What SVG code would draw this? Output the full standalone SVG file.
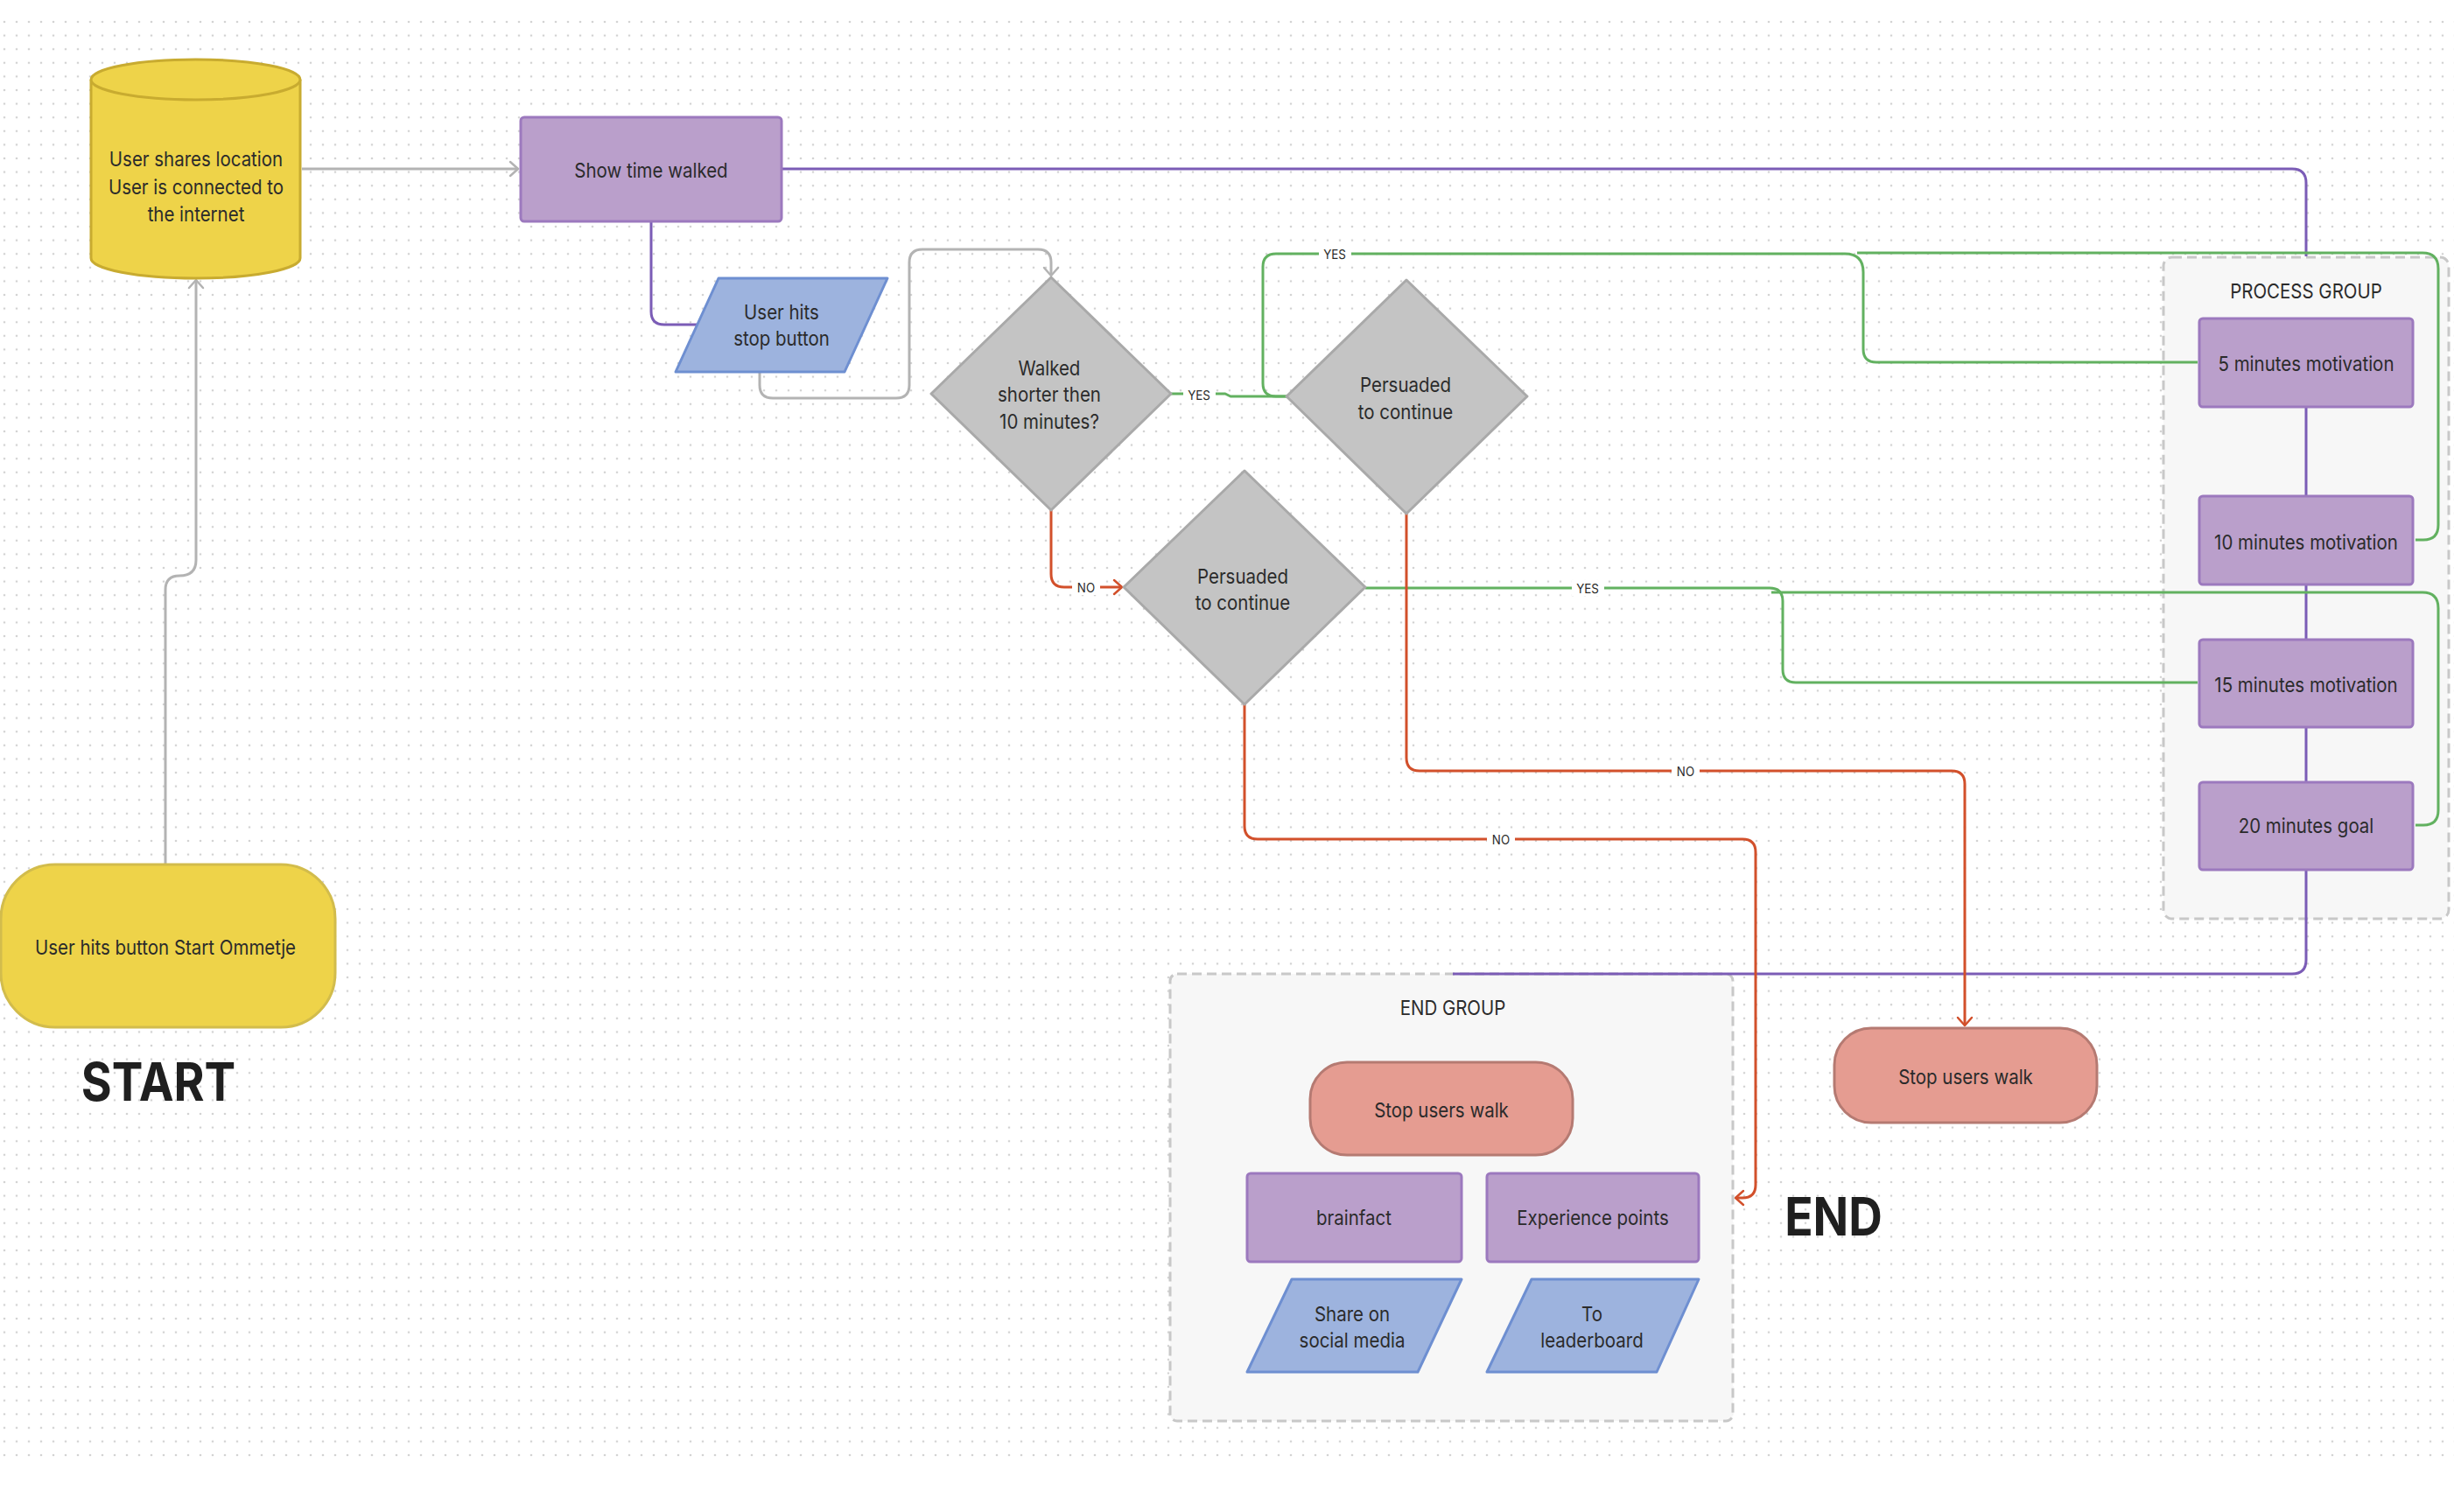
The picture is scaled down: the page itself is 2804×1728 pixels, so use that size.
<svg xmlns="http://www.w3.org/2000/svg" width="2804" height="1728" viewBox="0 0 2804 1728">
<defs>
<pattern id="dots" patternUnits="userSpaceOnUse" x="0" y="17.2" width="14" height="15.6">
<circle cx="5" cy="7.8" r="1.3" fill="#d2d2d2"/>
</pattern>
<marker id="ah-gray" markerUnits="userSpaceOnUse" viewBox="-12 -10 14 20" refX="0" refY="0" markerWidth="14" markerHeight="20" orient="auto">
<path d="M-9,-8 L0,0 L-9,8" fill="none" stroke="#b3b3b3" stroke-width="2.5" stroke-linecap="round" stroke-linejoin="round"/>
</marker>
<marker id="ah-red" markerUnits="userSpaceOnUse" viewBox="-12 -10 14 20" refX="0" refY="0" markerWidth="14" markerHeight="20" orient="auto">
<path d="M-9,-8 L0,0 L-9,8" fill="none" stroke="#d2502b" stroke-width="2.5" stroke-linecap="round" stroke-linejoin="round"/>
</marker>
</defs>
<style>
text{font-family:Inter,"Noto Sans","Liberation Sans",sans-serif;fill:#2b2b2b;text-anchor:middle;transform-box:fill-box;transform-origin:center;transform:scaleX(0.89)}
.n{font-size:23px}
.g{font-size:23px}
.l{font-size:15px}
.big{font-size:60px;font-weight:700;fill:#1f1f1f}
.yellow{fill:#eed349;stroke:#c8ab30;stroke-width:3}
.purple{fill:#ba9fcb;stroke:#9c79be;stroke-width:3}
.blue{fill:#9db3de;stroke:#6e8fd1;stroke-width:3;stroke-linejoin:round}
.gray{fill:#c4c4c4;stroke:#a9a9a9;stroke-width:3;stroke-linejoin:round}
.salmon{fill:#e59c91;stroke:#b57a72;stroke-width:3}
.grp{fill:#f7f7f7;stroke:#c8c8c8;stroke-width:3;stroke-dasharray:11 6}
.e{fill:none;stroke-width:3;stroke-linejoin:round}
.eg{stroke:#b3b3b3}
.ep{stroke:#7b5cb6}
.egr{stroke:#62b160}
.er{stroke:#d2502b}
.lb{fill:#ffffff}
</style>
<rect x="0" y="0" width="2804" height="1728" fill="#ffffff"/>
<rect x="0" y="17" width="2804" height="1649" fill="url(#dots)"/>

<g id="process-group">
<rect class="grp" x="2472" y="294" width="326" height="756" rx="10"/>
<text class="g" x="2635" y="341">PROCESS GROUP</text>
</g>
<g id="end-group">
<rect class="grp" x="1337" y="1113" width="643" height="511" rx="8"/>
<text class="g" x="1660" y="1160">END GROUP</text>
</g>

<g id="connectors">
<path class="e eg" d="M345,193 H592" marker-end="url(#ah-gray)"/>
<path class="e eg" d="M189,988 V674 Q189,658 205,658 Q224,658 224,640 V320" marker-end="url(#ah-gray)"/>
<path class="e eg" d="M868,425 V440 Q868,455 883,455 H1024 Q1039,455 1039,440 V300 Q1039,285 1054,285 H1186 Q1201,285 1201,300 V315" marker-end="url(#ah-gray)"/>
<path class="e ep" d="M893,193 H2619 Q2635,193 2635,209 V293"/>
<path class="e ep" d="M744,253 V356 Q744,371 759,371 H797"/>
<path class="e ep" d="M2635,465 V567 M2635,668 V731 M2635,831 V894"/>
<path class="e ep" d="M2635,994 V1097 Q2635,1113 2619,1113 H1660"/>
<path class="e egr" d="M1338,450 H1400 L1406,453 H1470"/>
<path class="e egr" d="M1470,453 H1458 Q1443,453 1443,438 V305 Q1443,290 1458,290 H2108 Q2129,290 2129,311 V399 Q2129,414 2144,414 H2511"/>
<path class="e egr" d="M2122,289 H2768 Q2786,289 2786,307 V600 Q2786,617 2769,617 H2760"/>
<path class="e egr" d="M1560,672 H2022 Q2037,672 2037,687 V765 Q2037,780 2052,780 H2511"/>
<path class="e egr" d="M2024,677 H2768 Q2786,677 2786,695 V926 Q2786,943 2769,943 H2760"/>
<path class="e er" d="M1201,583 V656 Q1201,671 1216,671 H1282" marker-end="url(#ah-red)"/>
<path class="e er" d="M1607,587 V866 Q1607,881 1622,881 H2230 Q2245,881 2245,896 V1172" marker-end="url(#ah-red)"/>
<path class="e er" d="M1422,805 V944 Q1422,959 1437,959 H1991 Q2006,959 2006,974 V1354 Q2006,1369 1991,1369 H1983" marker-end="url(#ah-red)"/>
<rect class="lb" x="1352" y="442" width="37" height="18"/>
<text class="l" x="1370" y="457">YES</text>
<rect class="lb" x="1507" y="281" width="37" height="18"/>
<text class="l" x="1525" y="296">YES</text>
<rect class="lb" x="1225" y="662" width="32" height="18"/>
<text class="l" x="1241" y="677">NO</text>
<rect class="lb" x="1796" y="663" width="37" height="18"/>
<text class="l" x="1814" y="678">YES</text>
<rect class="lb" x="1910" y="872" width="32" height="18"/>
<text class="l" x="1926" y="887">NO</text>
<rect class="lb" x="1699" y="950" width="32" height="18"/>
<text class="l" x="1715" y="965">NO</text>
</g>

<g id="location">
<path class="yellow" d="M104,91 A119.5,23 0 0,1 343,91 V295 A119.5,23 0 0,1 104,295 Z"/>
<path class="yellow" d="M104,91 A119.5,23 0 0,0 343,91" fill="none"/>
<text class="n" x="224" y="190">User shares location</text>
<text class="n" x="224" y="222">User is connected to</text>
<text class="n" x="224" y="253">the internet</text>
</g>
<g id="start-node">
<rect class="yellow" x="1" y="988" width="382" height="186" rx="62" style="stroke:#d2bc4c"/>
<text class="n" x="189" y="1091">User hits button Start Ommetje</text>
</g>
<g id="start-label"><text class="big" x="181" y="1258">START</text></g>
<g id="show-time">
<rect class="purple" x="595" y="134" width="298" height="119" rx="4"/>
<text class="n" x="744" y="203">Show time walked</text>
</g>
<g id="stop-button">
<path class="blue" d="M821,318 H1014 L965,425 H772 Z"/>
<text class="n" x="893" y="365">User hits</text>
<text class="n" x="893" y="395">stop button</text>
</g>
<g id="walked-decision">
<path class="gray" d="M1201,317 L1338,450 L1201,583 L1064,450 Z"/>
<text class="n" x="1199" y="429">Walked</text>
<text class="n" x="1199" y="459">shorter then</text>
<text class="n" x="1199" y="490">10 minutes?</text>
</g>
<g id="persuaded-1">
<path class="gray" d="M1607,320 L1745,453 L1607,587 L1470,453 Z"/>
<text class="n" x="1606" y="448">Persuaded</text>
<text class="n" x="1606" y="479">to continue</text>
</g>
<g id="persuaded-2">
<path class="gray" d="M1422,538 L1560,671 L1422,805 L1284,671 Z"/>
<text class="n" x="1420" y="667">Persuaded</text>
<text class="n" x="1420" y="697">to continue</text>
</g>
<g id="m5">
<rect class="purple" x="2513" y="364" width="244" height="101" rx="4"/>
<text class="n" x="2635" y="424">5 minutes motivation</text>
</g>
<g id="m10">
<rect class="purple" x="2513" y="567" width="244" height="101" rx="4"/>
<text class="n" x="2635" y="628">10 minutes motivation</text>
</g>
<g id="m15">
<rect class="purple" x="2513" y="731" width="244" height="100" rx="4"/>
<text class="n" x="2635" y="791">15 minutes motivation</text>
</g>
<g id="m20">
<rect class="purple" x="2513" y="894" width="244" height="100" rx="4"/>
<text class="n" x="2635" y="952">20 minutes goal</text>
</g>
<g id="stop-walk">
<rect class="salmon" x="2096" y="1175" width="300" height="108" rx="42"/>
<text class="n" x="2246" y="1239">Stop users walk</text>
</g>
<g id="end-stop-walk">
<rect class="salmon" x="1497" y="1214" width="300" height="106" rx="42"/>
<text class="n" x="1647" y="1277">Stop users walk</text>
</g>
<g id="brainfact">
<rect class="purple" x="1425" y="1341" width="245" height="101" rx="4"/>
<text class="n" x="1547" y="1400">brainfact</text>
</g>
<g id="experience">
<rect class="purple" x="1699" y="1341" width="242" height="101" rx="4"/>
<text class="n" x="1820" y="1400">Experience points</text>
</g>
<g id="share">
<path class="blue" d="M1476,1462 H1670 L1620,1568 H1425 Z"/>
<text class="n" x="1545" y="1510">Share on</text>
<text class="n" x="1545" y="1540">social media</text>
</g>
<g id="leaderboard">
<path class="blue" d="M1750,1462 H1941 L1893,1568 H1699 Z"/>
<text class="n" x="1819" y="1510">To</text>
<text class="n" x="1819" y="1540">leaderboard</text>
</g>
<g id="end-label"><text class="big" x="2095" y="1412">END</text></g>
</svg>
